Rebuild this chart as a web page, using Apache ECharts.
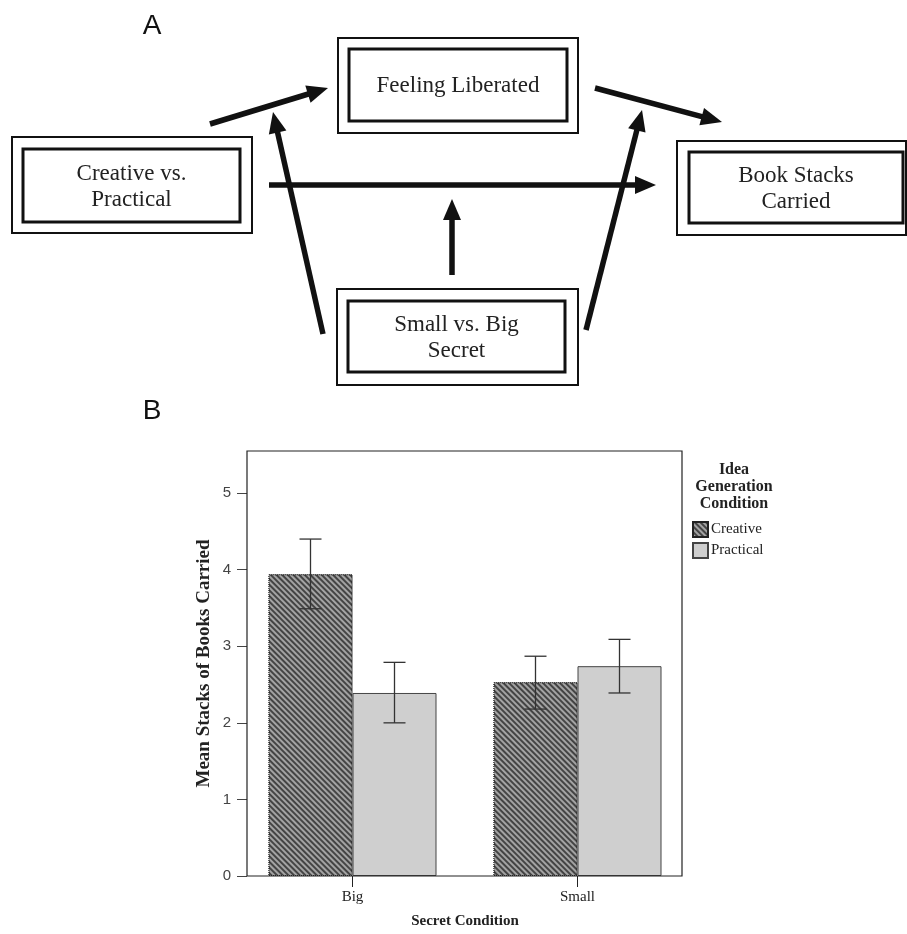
<!DOCTYPE html>
<html>
<head>
<meta charset="utf-8">
<script src="https://cdn.jsdelivr.net/npm/echarts@6/dist/echarts.min.js"></script>
<style>
html,body{margin:0;padding:0;background:#fff;}
#chart{width:907px;height:934px;}
</style>
</head>
<body>
<div id="chart"></div>
<script>
// ---- data ----
const categories = ['Big', 'Small'];
const seriesNames = ['Creative', 'Practical'];
const creativeMeans = [3.94, 2.53];
const practicalMeans = [2.39, 2.74];
const creativeLow = [3.49, 2.18];
const creativeHigh = [4.40, 2.87];
const practicalLow = [2.00, 2.39];
const practicalHigh = [2.79, 3.09];
const yTicks = [0, 1, 2, 3, 4, 5];
const yMax = 5.55;

// ---- diagram (panel A) text ----
const boxLabels = ['Feeling Liberated', 'Creative vs.\nPractical', 'Book Stacks\nCarried', 'Small vs. Big\nSecret'];

// ---- diagram layout ----
const boxLayout = [
  {outer: [338, 38, 240, 95], inner: [349, 49, 218, 72]},
  {outer: [12, 137, 240, 96], inner: [23, 149, 217, 73]},
  {outer: [677, 141, 229, 94], inner: [689, 152, 214, 71]},
  {outer: [337, 289, 241, 96], inner: [348, 301, 217, 71]}
];
const arrowLayout = [
  [[210, 124], [328, 88]],
  [[323, 334], [273, 112]],
  [[269, 185], [656, 185]],
  [[452, 275], [452, 199]],
  [[595, 88], [722, 122]],
  [[586, 330], [642, 110]]
];
// plot frame of panel B
const frameRect = [247, 451, 435, 425];

const chart = echarts.init(document.getElementById('chart'));

function arrowEls(p, q) {
  const dx = q[0] - p[0], dy = q[1] - p[1];
  const L = Math.hypot(dx, dy);
  const ux = dx / L, uy = dy / L;
  const hl = 21, hw = 9;
  const bx = q[0] - ux * hl, by = q[1] - uy * hl;
  return [
    {type: 'line', shape: {x1: p[0], y1: p[1], x2: bx + ux * 3, y2: by + uy * 3}, style: {stroke: '#111', lineWidth: 5.5}},
    {type: 'polygon', shape: {points: [q, [bx - uy * hw, by + ux * hw], [bx + uy * hw, by - ux * hw]]}, style: {fill: '#111'}}
  ];
}

const graphics = [];
boxLayout.forEach((b, i) => {
  graphics.push({type: 'rect', shape: {x: b.outer[0], y: b.outer[1], width: b.outer[2], height: b.outer[3]}, style: {fill: '#fff', stroke: '#111', lineWidth: 2}});
  graphics.push({type: 'rect', shape: {x: b.inner[0], y: b.inner[1], width: b.inner[2], height: b.inner[3]}, style: {fill: 'none', stroke: '#111', lineWidth: 3}});
  graphics.push({type: 'text', x: b.inner[0] + b.inner[2] / 2, y: b.inner[1] + b.inner[3] / 2 + 1,
    style: {text: boxLabels[i], fontSize: 23, fontFamily: 'Liberation Serif', fill: '#222', align: 'center', verticalAlign: 'middle', lineHeight: 26}});
});
arrowLayout.forEach(a => { arrowEls(a[0], a[1]).forEach(e => graphics.push(e)); });
graphics.push({type: 'text', x: 152, y: 26, style: {text: 'A', fontSize: 28, fontFamily: 'Liberation Sans', fill: '#111', align: 'center', verticalAlign: 'middle'}});
graphics.push({type: 'text', x: 152, y: 411, style: {text: 'B', fontSize: 28, fontFamily: 'Liberation Sans', fill: '#111', align: 'center', verticalAlign: 'middle'}});
graphics.push({type: 'rect', z: 20, shape: {x: frameRect[0], y: frameRect[1], width: frameRect[2], height: frameRect[3]}, style: {fill: 'none', stroke: '#222', lineWidth: 1.2}});

const BAR_W = 84;
function errRender(offset) {
  return function (params, api) {
    const i = api.value(0);
    const lo = api.coord([i, api.value(1)]);
    const hi = api.coord([i, api.value(2)]);
    const x = lo[0] + offset;
    const cap = 11;
    const st = {stroke: '#333', lineWidth: 1.3};
    return {type: 'group', children: [
      {type: 'line', shape: {x1: x, y1: lo[1], x2: x, y2: hi[1]}, style: st},
      {type: 'line', shape: {x1: x - cap, y1: hi[1], x2: x + cap, y2: hi[1]}, style: st},
      {type: 'line', shape: {x1: x - cap, y1: lo[1], x2: x + cap, y2: lo[1]}, style: st}
    ]};
  };
}

const serif = 'Liberation Serif';
const option = {
  animation: false,
  backgroundColor: '#fff',
  title: {
    text: 'Idea\nGeneration\nCondition',
    left: 729, top: 456, textAlign: 'center',
    textStyle: {fontFamily: serif, fontWeight: 'bold', fontSize: 16, lineHeight: 17, color: '#222'}
  },
  legend: {
    data: seriesNames,
    orient: 'vertical', left: 687, top: 516,
    itemWidth: 15, itemHeight: 15, itemGap: 4,
    icon: 'rect',
    textStyle: {fontFamily: serif, fontSize: 15, color: '#222', padding: [0, 0, 0, -2]},
    selectedMode: false
  },
  grid: {left: 240, right: 217, top: 451, bottom: 58},
  xAxis: {
    type: 'category', data: categories,
    axisLine: {show: false},
    axisTick: {show: true, alignWithLabel: true, length: 11, lineStyle: {color: '#222'}},
    axisLabel: {fontFamily: serif, fontSize: 15, color: '#222', margin: 14},
    name: 'Secret Condition', nameLocation: 'middle', nameGap: 38,
    nameTextStyle: {fontFamily: serif, fontWeight: 'bold', fontSize: 15, color: '#222'}
  },
  yAxis: {
    type: 'value', min: 0, max: yMax, interval: 1, offset: -7,
    axisLine: {show: false},
    axisTick: {show: true, length: 10, customValues: yTicks, lineStyle: {color: '#444'}},
    axisLabel: {customValues: yTicks, fontFamily: 'Liberation Sans', fontSize: 15, color: '#444', margin: 16},
    splitLine: {show: false},
    name: 'Mean Stacks of Books Carried', nameLocation: 'middle', nameGap: 33, nameRotate: 90,
    nameTextStyle: {fontFamily: serif, fontWeight: 'bold', fontSize: 19, color: '#222'}
  },
  graphic: {elements: graphics},
  series: [
    {
      name: 'Creative', type: 'bar', data: creativeMeans, barWidth: BAR_W, barGap: '0%',
      itemStyle: {
        color: '#444', borderColor: '#222', borderWidth: 1, borderType: 'dotted',
        decal: {symbol: 'rect', symbolSize: 1, dashArrayX: [1, 0], dashArrayY: [2, 2], rotation: Math.PI / 4, color: 'rgba(180,180,180,0.85)'}
      }
    },
    {
      name: 'Practical', type: 'bar', data: practicalMeans, barWidth: BAR_W,
      itemStyle: {color: '#cfcfcf', borderColor: '#444', borderWidth: 1}
    },
    {
      name: 'Creative error', type: 'custom', renderItem: errRender(-BAR_W / 2), z: 5,
      data: categories.map((c, i) => [i, creativeLow[i], creativeHigh[i]])
    },
    {
      name: 'Practical error', type: 'custom', renderItem: errRender(BAR_W / 2), z: 5,
      data: categories.map((c, i) => [i, practicalLow[i], practicalHigh[i]])
    }
  ]
};
chart.setOption(option);
</script>
</body>
</html>
